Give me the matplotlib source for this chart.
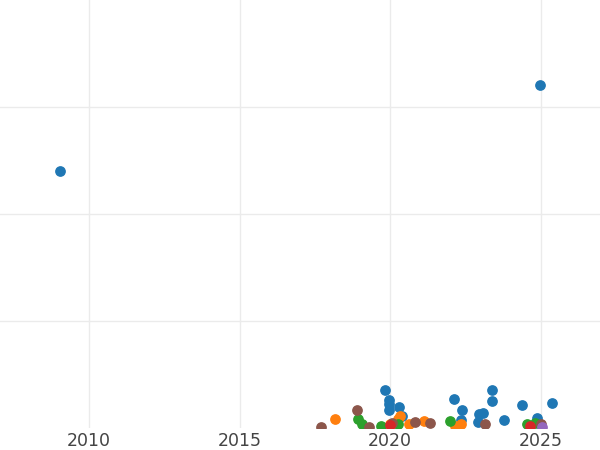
import matplotlib.pyplot as plt

# series values (year, value)
blue_x = [2009.03, 2024.98, 2019.83, 2019.96, 2019.96, 2019.96, 2020.30, 2020.40, 2022.12, 2022.39,
          2022.36, 2022.95, 2023.09, 2023.39, 2023.39, 2023.78, 2024.38, 2024.88, 2025.38, 2022.92, 2024.98]
blue_y = [2.40, 3.21, 0.355, 0.26, 0.22, 0.17, 0.20, 0.11, 0.27, 0.17,
          0.075, 0.13, 0.14, 0.355, 0.25, 0.075, 0.215, 0.095, 0.235, 0.055, 0.04]
orange_x = [2018.17, 2020.26, 2020.33, 2020.63, 2021.13, 2022.16, 2022.36, 2020.0]
orange_y = [0.085, 0.085, 0.11, 0.04, 0.065, 0.02, 0.04, 0.04]
green_x = [2018.93, 2019.07, 2019.70, 2020.26, 2021.99, 2024.55, 2024.81]
green_y = [0.085, 0.04, 0.02, 0.04, 0.065, 0.04, 0.05]
brown_x = [2017.70, 2018.90, 2019.30, 2020.06, 2020.83, 2021.33, 2023.15, 2025.01]
brown_y = [0.01, 0.17, 0.01, 0.05, 0.055, 0.05, 0.04, 0.04]
red_x = [2020.0, 2024.65]
red_y = [0.03, 0.02]
purple_x = [2025.05]
purple_y = [0.01]

fig = plt.figure(figsize=(6, 4.5), dpi=100)
ax = fig.add_axes([0, 22 / 450, 1, 428 / 450])

for xs, ys, c in [(blue_x, blue_y, '#1f77b4'), (orange_x, orange_y, '#ff7f0e'),
                  (green_x, green_y, '#2ca02c'), (brown_x, brown_y, '#8c564b'),
                  (red_x, red_y, '#d62728'), (purple_x, purple_y, '#9467bd')]:
    ax.scatter(xs, ys, s=45, color=c, zorder=3, clip_on=True)

ax.set_xlim(2007.04, 2026.97)
ax.set_ylim(0, 4)
ax.set_xticks([2010, 2015, 2020, 2025])
ax.set_yticks([1, 2, 3])
ax.set_yticklabels([])
ax.tick_params(axis='y', length=0)
ax.tick_params(axis='x', length=0, labelsize=12.5, colors='#444444', pad=3)
ax.grid(True, color='#ebebeb', linewidth=1)
ax.set_axisbelow(True)
for s in ax.spines.values():
    s.set_visible(False)

fig.savefig('out.png', dpi=100)
